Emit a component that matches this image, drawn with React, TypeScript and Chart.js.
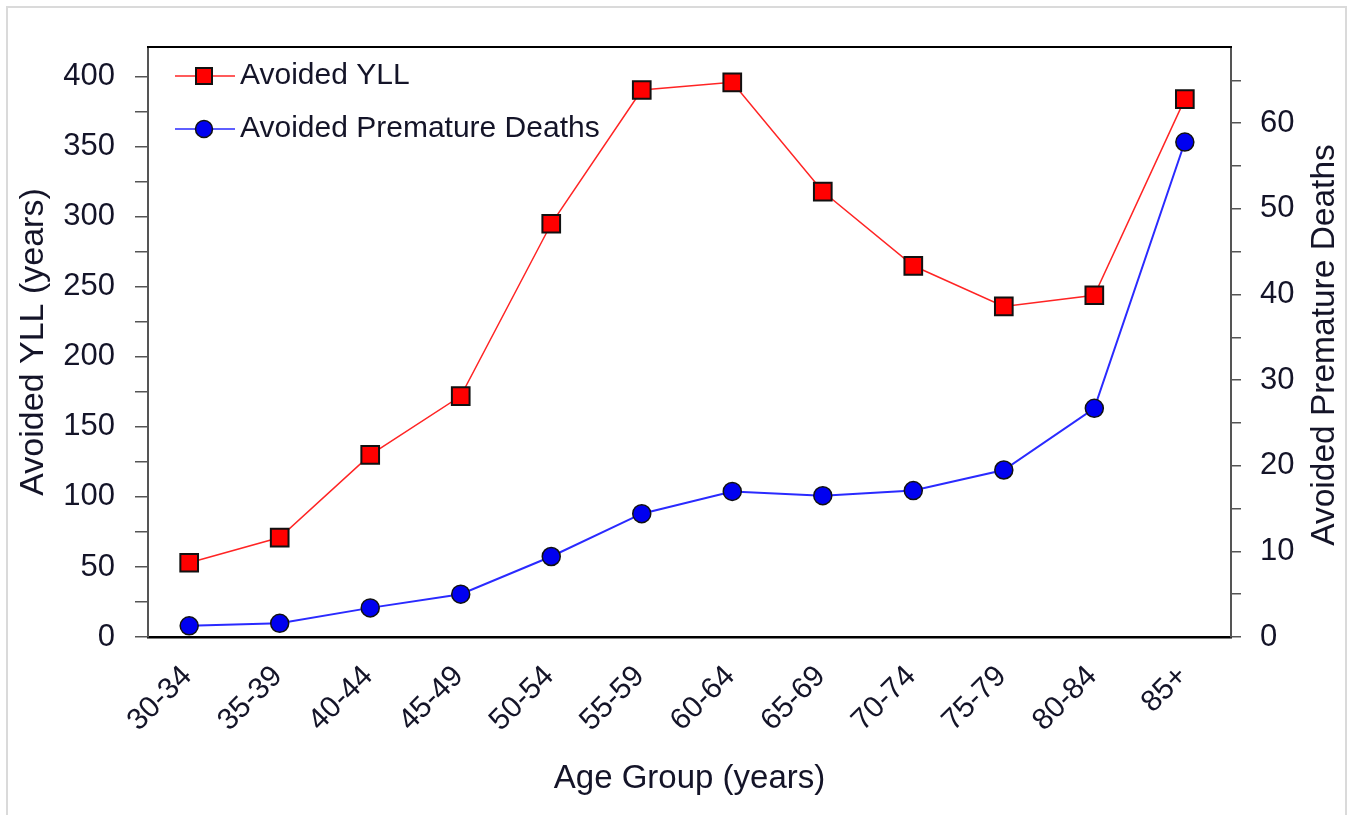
import React, { useEffect, useRef } from 'react';
import { Chart, registerables } from 'chart.js';

Chart.register(...registerables);

// ---- Data ----
const categories = ['30-34', '35-39', '40-44', '45-49', '50-54', '55-59', '60-64', '65-69', '70-74', '75-79', '80-84', '85+'];
const avoidedYLL = [53, 71, 130, 172, 295, 390.5, 396, 318, 265, 236, 244, 384];
const avoidedDeaths = [1.3, 1.6, 3.4, 5.0, 9.4, 14.4, 17.0, 16.5, 17.1, 19.5, 26.7, 57.8];
const seriesLabels = ['Avoided YLL', 'Avoided Premature Deaths'];
const xTitle = 'Age Group (years)';
const yTitle = 'Avoided YLL (years)';
const y1Title = 'Avoided Premature Deaths';
const xAxisMin = -0.455;
const xAxisMax = 11.51;
const yllAxisMax = 421.2;
const yllMinorStep = 25;
const yllLabelStep = 50;
const deathsAxisMax = 68.9;
const deathsMinorStep = 5;
const deathsLabelStep = 10;

const FONT = '"Liberation Sans", Arial, sans-serif';
const TEXT = '#141428';
const RED_LINE = '#ff2424';
const RED_FILL = '#ff0000';
const BLUE_LINE = '#2a2aff';
const BLUE_FILL = '#0000f0';

const decorPlugin = {
  id: 'decor',
  beforeDraw(chart: any) {
    const ctx = chart.ctx;
    ctx.save();
    ctx.fillStyle = '#ffffff';
    ctx.fillRect(0, 0, chart.width, chart.height);
    ctx.strokeStyle = '#dadada';
    ctx.lineWidth = 2;
    ctx.strokeRect(7, 7, chart.width - 14, chart.height + 20);
    ctx.restore();
  },
  afterDraw(chart: any) {
    const ctx = chart.ctx;
    const ca = chart.chartArea;
    ctx.save();
    // top frame line
    ctx.strokeStyle = '#000';
    ctx.lineWidth = 2;
    ctx.beginPath();
    ctx.moveTo(ca.left - 1, ca.top);
    ctx.lineTo(ca.right + 1, ca.top);
    ctx.stroke();

    // legend
    const lx1 = ca.left + 27;
    const lx2 = ca.left + 87;
    const mx = ca.left + 56;
    const tx = ca.left + 92;
    const r1 = ca.top + 29;
    const r2 = ca.top + 82;
    ctx.font = `30px ${FONT}`;
    ctx.textBaseline = 'middle';
    ctx.textAlign = 'left';

    ctx.strokeStyle = RED_LINE;
    ctx.lineWidth = 1.5;
    ctx.beginPath();
    ctx.moveTo(lx1, r1);
    ctx.lineTo(lx2, r1);
    ctx.stroke();
    ctx.fillStyle = RED_FILL;
    ctx.fillRect(mx - 8, r1 - 8, 16, 16);
    ctx.strokeStyle = '#111';
    ctx.lineWidth = 2;
    ctx.strokeRect(mx - 8, r1 - 8, 16, 16);
    ctx.fillStyle = TEXT;
    ctx.fillText(seriesLabels[0], tx, r1);

    ctx.strokeStyle = BLUE_LINE;
    ctx.lineWidth = 1.5;
    ctx.beginPath();
    ctx.moveTo(lx1, r2);
    ctx.lineTo(lx2, r2);
    ctx.stroke();
    ctx.fillStyle = BLUE_FILL;
    ctx.beginPath();
    ctx.arc(mx, r2, 8.5, 0, Math.PI * 2);
    ctx.fill();
    ctx.strokeStyle = '#111';
    ctx.lineWidth = 1.5;
    ctx.stroke();
    ctx.fillStyle = TEXT;
    ctx.fillText(seriesLabels[1], tx, r2);

    // right axis title (reads bottom to top)
    ctx.save();
    ctx.translate(1325, (ca.top + ca.bottom) / 2 + 3);
    ctx.rotate(-Math.PI / 2);
    ctx.textAlign = 'center';
    ctx.textBaseline = 'middle';
    ctx.font = `33.5px ${FONT}`;
    ctx.fillStyle = TEXT;
    ctx.fillText(y1Title, 0, 0);
    ctx.restore();

    ctx.restore();
  },
};

export default function App() {
  const canvasRef = useRef<HTMLCanvasElement | null>(null);

  useEffect(() => {
    const canvas = canvasRef.current;
    if (!canvas) return;
    const yllPoints = avoidedYLL.map((v, i) => ({ x: i, y: v }));
    const deathPoints = avoidedDeaths.map((v, i) => ({ x: i, y: v }));
    const chart = new Chart(canvas, {
      type: 'line',
      data: {
        datasets: [
          {
            label: seriesLabels[0],
            data: yllPoints,
            yAxisID: 'y',
            borderColor: RED_LINE,
            borderWidth: 1.5,
            pointStyle: 'rect',
            pointRadius: 12.5,
            pointBackgroundColor: RED_FILL,
            pointBorderColor: '#111',
            pointBorderWidth: 2,
            tension: 0,
            fill: false,
          },
          {
            label: seriesLabels[1],
            data: deathPoints,
            yAxisID: 'y1',
            borderColor: BLUE_LINE,
            borderWidth: 2,
            pointStyle: 'circle',
            pointRadius: 9,
            pointBackgroundColor: BLUE_FILL,
            pointBorderColor: '#111',
            pointBorderWidth: 1.5,
            tension: 0,
            fill: false,
          },
        ],
      },
      options: {
        responsive: false,
        animation: false,
        devicePixelRatio: 1,
        layout: { padding: { top: 47, left: 0, right: 0, bottom: 0 } },
        plugins: {
          legend: { display: false },
          tooltip: { enabled: false },
        },
        scales: {
          x: {
            type: 'linear',
            min: xAxisMin,
            max: xAxisMax,
            grid: { display: false, drawTicks: false },
            border: { display: true, color: '#000', width: 2.5 },
            afterBuildTicks: (s: any) => {
              s.ticks = categories.map((_, i) => ({ value: i }));
            },
            ticks: {
              autoSkip: false,
              minRotation: 45,
              maxRotation: 45,
              padding: 22,
              labelOffset: -2,
              color: TEXT,
              font: { family: FONT, size: 30 },
              callback: (v: any) => categories[Math.round(Number(v))] ?? '',
            },
            title: {
              display: true,
              text: xTitle,
              color: TEXT,
              font: { family: FONT, size: 33 },
              padding: { top: 0, bottom: 16 },
            },
            afterFit: (s: any) => {
              s.height = 178;
            },
          },
          y: {
            type: 'linear',
            position: 'left',
            min: 0,
            max: yllAxisMax,
            grid: { drawOnChartArea: false, drawTicks: true, tickLength: 13, color: '#555', lineWidth: 1.5 },
            border: { display: true, color: '#555', width: 2 },
            ticks: {
              stepSize: yllMinorStep,
              includeBounds: false,
              autoSkip: false,
              padding: 20,
              color: TEXT,
              font: { family: FONT, size: 31 },
              callback: (v: any) => (Number(v) % yllLabelStep === 0 ? String(v) : ''),
            },
            title: {
              display: true,
              text: yTitle,
              color: TEXT,
              font: { family: FONT, size: 34 },
              padding: { top: 13, bottom: 0 },
            },
            afterFit: (s: any) => {
              s.width = 148;
            },
          },
          y1: {
            type: 'linear',
            position: 'right',
            min: 0,
            max: deathsAxisMax,
            grid: { drawOnChartArea: false, drawTicks: true, tickLength: 10, color: '#555', lineWidth: 1.5 },
            border: { display: true, color: '#555', width: 2 },
            ticks: {
              stepSize: deathsMinorStep,
              includeBounds: false,
              autoSkip: false,
              padding: 19,
              color: TEXT,
              font: { family: FONT, size: 31 },
              callback: (v: any) => (Number(v) % deathsLabelStep === 0 ? String(v) : ''),
            },
            title: { display: false },
            afterFit: (s: any) => {
              s.width = 122;
            },
          },
        },
      } as any,
      plugins: [decorPlugin],
    });
    return () => chart.destroy();
  }, []);

  return (
    <div style={{ position: 'fixed', left: 0, top: 0, width: 1353, height: 815, background: '#fff' }}>
      <canvas ref={canvasRef} width={1353} height={815} style={{ display: 'block', width: 1353, height: 815 }} />
    </div>
  );
}
